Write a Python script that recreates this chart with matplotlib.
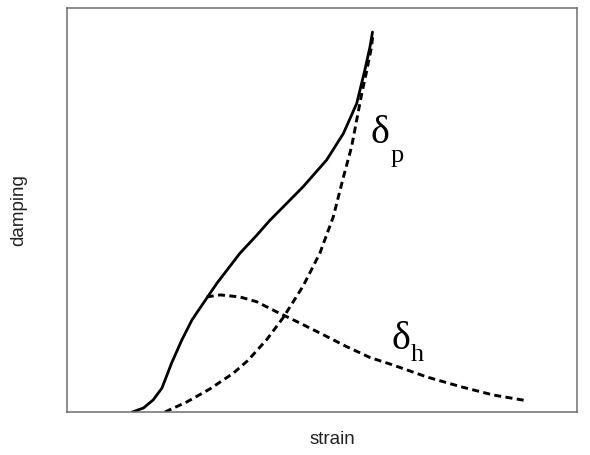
import matplotlib.pyplot as plt

# curves, as fractions of the axes (0..1)
total_x = [0.128, 0.150, 0.169, 0.186, 0.205, 0.225, 0.245, 0.267, 0.294,
           0.339, 0.370, 0.398, 0.431, 0.463, 0.509, 0.542, 0.568, 0.584,
           0.594, 0.599]
total_y = [0.000, 0.010, 0.030, 0.059, 0.121, 0.178, 0.228, 0.269, 0.319,
           0.393, 0.435, 0.475, 0.517, 0.558, 0.624, 0.690, 0.764, 0.847,
           0.904, 0.941]

# delta_p (dashed, rising)
dp_x = [0.192, 0.235, 0.280, 0.326, 0.355, 0.392, 0.424, 0.463, 0.496,
        0.522, 0.542, 0.558, 0.568, 0.578, 0.588, 0.597, 0.600]
dp_y = [0.000, 0.025, 0.057, 0.096, 0.128, 0.180, 0.234, 0.312, 0.394,
        0.483, 0.582, 0.657, 0.723, 0.789, 0.847, 0.904, 0.938]

# delta_h (dashed, hump)
dh_x = [0.274, 0.300, 0.339, 0.372, 0.411, 0.457, 0.503, 0.548, 0.594,
        0.640, 0.705, 0.771, 0.836, 0.901]
dh_y = [0.285, 0.290, 0.285, 0.273, 0.248, 0.220, 0.191, 0.162, 0.135,
        0.116, 0.087, 0.063, 0.042, 0.028]

fig = plt.figure(figsize=(5.9, 4.55), dpi=100)
ax = fig.add_axes([0.1136, 0.0945, 0.8644, 0.8875])

ax.plot(total_x, total_y, color='black', lw=2.0,
        solid_joinstyle='round', solid_capstyle='round')
ax.plot(dp_x, dp_y, color='black', lw=2.1, dashes=[2.4, 1.5])
ax.plot(dh_x, dh_y, color='black', lw=2.1, dashes=[2.4, 1.5])

serif = 'Liberation Serif'
ax.text(0.596, 0.666, '\u03b4', fontsize=29, family=serif,
        ha='left', va='baseline')
ax.text(0.634, 0.619, 'p', fontsize=19, family=serif,
        ha='left', va='baseline')
ax.text(0.637, 0.156, '\u03b4', fontsize=29, family=serif,
        ha='left', va='baseline')
ax.text(0.675, 0.126, 'h', fontsize=19, family=serif,
        ha='left', va='baseline')

ax.set_xlim(0, 1)
ax.set_ylim(0, 1)
ax.set_xticks([])
ax.set_yticks([])
for s in ax.spines.values():
    s.set_color('#6e6e6e')
    s.set_linewidth(1.1)

ax.set_xlabel('strain', fontsize=13.5, family='Liberation Sans',
              color='#222222')
ax.set_ylabel('damping', fontsize=13.5, family='Liberation Sans',
              color='#222222')
ax.xaxis.set_label_coords(0.52, -0.048)
ax.yaxis.set_label_coords(-0.078, 0.5)

fig.savefig('out.png', dpi=100, facecolor='white')
